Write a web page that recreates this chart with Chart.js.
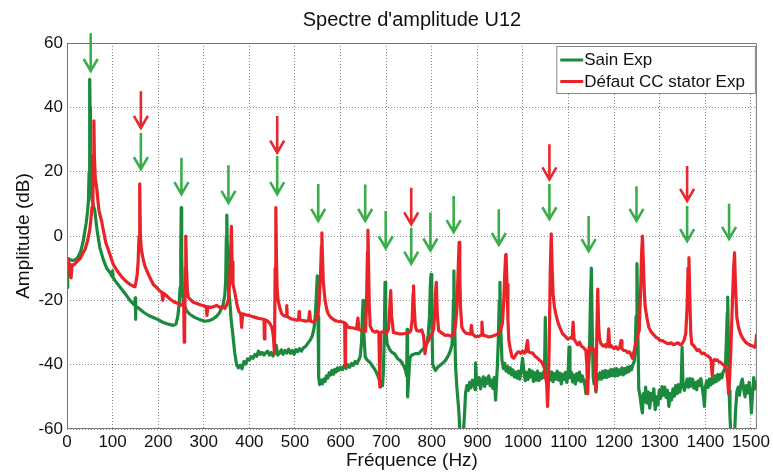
<!DOCTYPE html>
<html lang="fr">
<head>
    <meta charset="UTF-8">
    <title>Spectre d'amplitude U12</title>
    <script src="https://cdn.jsdelivr.net/npm/chart.js"></script>
    <style>
        html, body { margin: 0; padding: 0; background: #fff; }
        #wrap { width: 773px; height: 473px; }
    </style>
</head>
<body>
    <div id="wrap"><canvas id="spectre" width="773" height="473"></canvas></div>
    <script>
        // Spectres relevés : [fréquence Hz, amplitude dB]
        const sainSpectrum = [
            [0,-16],[1.5,-7],[6,-7.3],[12,-7.6],[18,-7.4],[24,-6.6],[30,-4.8],[35,-2],[38,0.5],[42,4],[45,7.5],[47,11],
            [48.5,20],[49.5,40],[50,48.7],[50.5,40],[51.5,20],[53,13],[56,10.5],[61,7.8],[66,1.8],[72,-3.6],[80,-7.5],
            [87,-10],[95,-11.5],[99,-12.6],[100,-10.8],[101,-12.8],[105,-13.8],[117,-16],[128,-18],[138,-20],[146,-21.2],
            [149,-21.6],[149.7,-19.2],[150.3,-25.9],[151,-21.8],[153,-22],[160,-22.8],[168,-23.7],[180,-24.8],[197,-25.8],
            [210,-26.8],[222,-27.4],[233,-27.8],[239,-27.4],[243,-25],[246,-21],[248,-16],[249.5,-5],[250.5,8.8],[251.5,-5],
            [253,-18],[256,-21],[262,-23.2],[270,-24.4],[280,-25.3],[291,-26],[302,-26.5],[312,-26.3],[320,-25.8],[328,-25],
            [335,-23.7],[342,-21.5],[346,-18.5],[348,-14],[349.5,0],[350.5,6.5],[351.5,-3],[353,-15],[357,-20],[360,-26],
            [364,-31],[368,-36.5],[372,-40],[376,-41],[380,-40.2],[384,-41.3],[388,-39],[392,-39.8],[396,-38.2],[400,-38.6],
            [404,-37.5],[408,-38],[412,-36.8],[416,-37.4],[420,-35.8],[424,-36.8],[428,-36.2],[432,-37],[436,-36.3],[440,-35.8],
            [444,-37],[448,-36.2],[452,-37.3],[456,-36],[459,-34],[462,-37],[466,-36.5],[470,-35.4],[474,-36.8],[478,-35.6],
            [482,-36.4],[486,-35.2],[490,-36.5],[494,-35.6],[498,-36.8],[502,-35.3],[506,-36],[510,-35],[514,-35.8],[518,-34.8],
            [522,-34.5],[526,-33.8],[530,-33],[534,-32.2],[538,-31],[542,-28.5],[545,-24],[547,-18],[549,-12.4],[550.5,-25],
            [552,-44],[554,-46.2],[557,-44.8],[560,-46],[563,-44.5],[566,-45.2],[569,-43.5],[572,-44.2],[575,-42.5],[578,-43.2],
            [581,-41.8],[584,-43],[587,-41.5],[590,-42.3],[593,-41],[596,-41.8],[600,-40.8],[604,-41.6],[608,-40.2],[612,-41.2],
            [616,-40],[620,-40.8],[624,-39.6],[628,-40.2],[632,-39],[636,-39.6],[640,-38.5],[643,-37.5],[646,-33],[648,-24],
            [649.5,-20],[651,-30],[654,-37.6],[658,-38.5],[662,-39],[666,-39.6],[670,-40.5],[674,-41.2],[678,-42.3],[682,-43.5],
            [685,-44.8],[688,-46.9],[690,-45],[692,-46.5],[694,-42],[696,-30],[697.5,-14.4],[699,-28],[702,-33.5],[706,-34.8],
            [710,-35.8],[714,-36.3],[718,-36.6],[722,-37.4],[726,-38.3],[730,-38.6],[734,-39.2],[738,-40.3],[742,-41.5],
            [745,-43.5],[746,-29],[747,-50],[749,-45],[752,-38],[756,-37],[760,-36.8],[765,-36.5],[771,-36.6],[776,-35.8],
            [782,-35],[786,-34.3],[789,-33.5],[792,-31],[795,-25],[797,-15],[798.5,-11.9],[800,-25],[802,-39.7],[805,-41],
            [808,-41.8],[812,-41],[816,-40.4],[820,-40],[825,-39.4],[830,-38.7],[835,-37.5],[840,-36],[844,-34],[846,-30],
            [847.5,-20],[848.5,-10.8],[850,-25],[852,-40],[855,-47],[858,-52],[860,-56],[862,-62],[866,-62],[869,-62],
            [872,-55],[874,-49],[877,-46.5],[880,-48],[883,-45.5],[886,-47.2],[889,-44.8],[892,-45.6],[895,-47.8],[896,-39.4],
            [898,-44.5],[901,-46.2],[904,-44],[907,-47.5],[910,-45.2],[913,-43.8],[916,-46.8],[919,-44.2],[922,-45.8],
            [925,-43.5],[928,-46.6],[931,-44.8],[934,-47.4],[937,-44],[940,-51],[942,-45.5],[944,-40],[946,-32],[948,-20],
            [949.5,-14.4],[951,-28],[954,-38.7],[957,-41.2],[960,-39.6],[963,-42],[966,-40.5],[969,-42.6],[972,-41],
            [975,-43.2],[978,-41.6],[981,-43.8],[984,-42.3],[987,-44.2],[990,-42],[993,-44.5],[996,-42.3],[999,-38],
            [1002,-41.8],[1005,-45],[1008,-42.4],[1011,-44.6],[1014,-41.5],[1017,-43.8],[1020,-42],[1023,-45.2],[1026,-42.5],
            [1029,-44.8],[1032,-42],[1035,-45],[1038,-42.8],[1041,-44.3],[1044,-42.5],[1047,-44],[1049,-25.3],[1051,-43.5],
            [1054,-45.5],[1057,-42.6],[1060,-44.8],[1063,-42.2],[1066,-45.3],[1069,-42.8],[1072,-44.5],[1075,-42],[1078,-44.8],
            [1081,-42.6],[1084,-46],[1087,-43],[1090,-44.6],[1093,-42.4],[1096,-45.5],[1099,-43],[1101,-34.5],[1103,-44],
            [1106,-42.3],[1109,-45.4],[1112,-43.2],[1115,-46],[1118,-42.8],[1121,-44.8],[1124,-42.3],[1127,-45.3],[1130,-43.5],
            [1133,-44.8],[1136,-46.5],[1138,-49],[1140,-45],[1143,-44],[1146,-35],[1148,-20],[1150,-10],[1152,-30],[1154,-44],
            [1156,-46],[1158,-44.5],[1160,-48.5],[1163,-43],[1166,-44.5],[1169,-42.5],[1172,-44.5],[1175,-42],[1178,-44],
            [1181,-41.8],[1184,-44],[1187,-42],[1190,-43.6],[1193,-41.5],[1196,-43.4],[1199,-41.5],[1202,-43.6],[1205,-41.2],
            [1208,-43.4],[1211,-41.6],[1214,-43],[1217,-41],[1220,-43.2],[1223,-41.2],[1226,-42.6],[1229,-40.8],[1232,-42.2],
            [1235,-40.5],[1238,-41.6],[1241,-40],[1244,-39],[1246,-36],[1248,-25],[1250,-8.6],[1252,-30],[1254,-47.6],
            [1257,-50],[1260,-53.5],[1262,-55],[1264,-49],[1267,-51.5],[1269,-47],[1272,-52],[1275,-48.5],[1278,-53.5],
            [1281,-49],[1284,-51],[1287,-47.5],[1290,-54],[1293,-50],[1296,-52.5],[1299,-48],[1302,-50.5],[1305,-46.8],
            [1308,-49.5],[1311,-47],[1314,-50.2],[1317,-48],[1320,-53],[1323,-49],[1326,-51],[1329,-47.5],[1332,-49.8],
            [1335,-46.5],[1338,-49],[1341,-46.2],[1344,-48.5],[1347,-46],[1349,-34.5],[1351,-46],[1354,-48],[1357,-46.5],
            [1360,-44.5],[1363,-47],[1366,-44.3],[1369,-46.7],[1372,-44.5],[1375,-47.3],[1378,-45.5],[1381,-47.8],[1384,-45],
            [1387,-46.5],[1390,-44.3],[1393,-47],[1396,-50],[1398,-53],[1400,-47],[1403,-45],[1406,-47.1],[1409,-44.5],
            [1412,-46.3],[1415,-44],[1418,-45.7],[1421,-43.5],[1424,-45.3],[1427,-43.1],[1430,-44.7],[1433,-43],[1436,-44.1],
            [1439,-42.3],[1442,-41.5],[1444,-40.5],[1446,-33],[1448,-24],[1449,-19],[1450.5,-32],[1452,-48],[1454,-56],
            [1456,-62],[1460,-62],[1464,-62],[1466,-55],[1469,-48.5],[1472,-47],[1475,-49.5],[1478,-46],[1481,-44.5],
            [1484,-47.5],[1487,-50],[1490,-46.5],[1493,-48.8],[1496,-45.5],[1499,-50],[1501,-55],[1503,-50],[1506,-44],
            [1509,-47.5],[1512,-45.5],[1513,-47]
        ];

        const defautSpectrum = [
            [0,-7],[2,-8],[5,-8.5],[7,-12.5],[9,-13],[11,-9],[15,-9],[20,-8.2],[25,-7.5],[29,-7],[34,-5.5],[40,-4],[45,-1.5],
            [50,2],[53,6],[55,9],[57,15],[58,25],[59,35.8],[60,25],[62,18],[65,15],[70,8],[76,4.5],[85,-2],[94,-5.7],[102,-9],
            [110,-10.8],[120,-12.7],[130,-14.2],[138,-15],[145,-15.6],[149,-15.8],[151,-14.5],[154,-12],[156,-8],[158,0],
            [159.5,16.2],[161,0],[163,-4],[166,-6.5],[170,-9],[175,-10.8],[182,-13],[189,-15],[196,-16],[203,-17],[208,-17.5],
            [210,-20],[212,-17.8],[218,-18.5],[226,-19.6],[235,-20.5],[244,-21],[250,-21.5],[254,-21.2],[256,-20],[257,-33],
            [258,-28],[259.5,-10],[260.5,0],[262,-10],[264,-17],[266,-19],[272,-20],[277,-20.6],[285,-21],[292,-21.4],
            [299,-21.6],[305,-22],[307,-24.7],[309,-22],[315,-22.2],[321,-22],[328,-21.6],[335,-22.2],[342,-22],[346,-22.5],
            [350,-21.5],[354,-20],[357,-14],[359,-5],[360.5,3],[362,-8],[364,-15],[368,-17.5],[373,-21.5],[377,-23.5],
            [381,-24.2],[383,-28.4],[385,-24.2],[392,-24.5],[399,-24.7],[406,-25],[413,-25.3],[420,-25.6],[428,-25.8],
            [432,-26],[433,-32],[434,-26],[440,-26.5],[444,-27],[448,-28],[451,-29.5],[453,-32],[455,-36.6],[456.5,-10],
            [458,8.8],[459.5,-8],[461,-17],[463,-20],[467,-22.5],[471,-24.2],[476,-24.8],[481,-25],[482,-21.6],[483,-25],
            [488,-25.5],[493,-25.8],[499,-26],[504,-26.2],[508,-26],[509,-23.5],[510,-26],[515,-26.2],[519,-26.3],[525,-26.5],
            [530,-26.2],[532,-23.5],[534,-26.5],[541,-26.8],[545,-26],[549,-25.3],[553,-21],[556,-12],[558,-3],[559,1],
            [560,-5],[562,-14],[566,-20],[570,-23],[573,-24.2],[578,-25.2],[583,-25.8],[588,-26.3],[594,-26.5],[600,-26.6],
            [606,-26.8],[609,-27],[610,-40.2],[611,-27.2],[617,-28.4],[622,-28.5],[628,-28.6],[635,-28.9],[638,-25.5],
            [640,-29],[646,-29.4],[651,-29.6],[655,-29.6],[657,-20],[659,-5],[660,1.8],[661.5,-10],[663,-22],[665,-28],
            [670,-29.5],[676,-29.9],[680,-29.6],[684,-30],[686,-46.9],[688,-30],[692,-29.8],[697,-30],[701,-30.2],[705,-29],
            [708,-22],[710,-17],[712,-25],[716,-30],[722,-30.2],[728,-30.4],[734,-30.4],[740,-30.3],[745,-30.2],[750,-30],
            [754,-29.5],[757,-26],[759,-18],[760,-15.5],[761.5,-22],[764,-28],[767,-29.4],[772,-29.6],[778,-29.2],[782,-31],
            [785,-36.6],[788,-33.5],[793,-32.5],[797,-31],[801,-30.2],[804,-29],[806,-25],[808,-18],[810,-14.4],[812,-24],
            [815,-29.4],[820,-30],[825,-30.4],[829,-30.9],[835,-30.8],[840,-31],[844,-31.2],[848,-30.5],[852,-28],[855,-23],
            [858,-10],[860,-2],[861.5,-12],[863,-22],[866,-28.4],[870,-29.5],[875,-30.2],[881,-30.4],[885,-30.5],[887,-27.8],
            [889,-30.5],[896,-31.3],[903,-31.2],[908,-30.8],[910,-26.8],[912,-30.8],[918,-31],[925,-31.4],[932,-31.2],
            [940,-30.8],[946,-30.4],[951,-29.4],[955,-27],[958,-20],[960,-12],[962,-6],[963,-5.7],[965,-15],[967,-26],
            [969,-32.5],[972,-35],[976,-37.6],[980,-38],[984,-37],[988,-36.2],[991,-36],[995,-36.5],[999,-35.8],[1003,-36.4],
            [1006,-36],[1010,-32.5],[1012,-36],[1016,-36.2],[1021,-36.4],[1026,-37.3],[1032,-38],[1036,-38.6],[1040,-39],
            [1043,-39.7],[1047,-41],[1050,-43.8],[1052,-46],[1054,-53],[1056,-45],[1058,-30],[1060,-10],[1062,0.7],
            [1064,-10],[1066,-18],[1069,-22],[1072,-24.2],[1077,-27],[1082,-28.8],[1087,-30.4],[1093,-31.2],[1098,-32],
            [1104,-31.6],[1108,-31.8],[1110,-26.8],[1112,-32],[1116,-33],[1120,-33.8],[1124,-33],[1128,-34.2],[1131,-34.5],
            [1135,-35],[1138,-35.6],[1140,-40],[1142,-49],[1144,-38],[1145,-34.5],[1149,-35.2],[1153,-34.8],[1156,-35.6],
            [1158,-40],[1160,-48],[1162,-30],[1164,-16.5],[1166,-28],[1168,-32],[1171,-33.5],[1176,-34.2],[1180,-33.8],
            [1182,-34.5],[1186,-34],[1188,-28.9],[1190,-34.5],[1193,-34],[1196,-34.5],[1200,-35],[1204,-34.4],[1208,-35.2],
            [1212,-34.8],[1215,-32.5],[1217,-35],[1221,-35.6],[1225,-35.6],[1229,-36.2],[1233,-36],[1236,-36.6],[1240,-38],
            [1244,-35.6],[1248,-33],[1252,-30.5],[1255,-29.4],[1258,-17],[1260,-6],[1262,0],[1264,-8],[1266,-17],[1268,-22],
            [1272,-25.5],[1276,-28.4],[1281,-29.8],[1286,-30.6],[1291,-31.4],[1296,-31.8],[1301,-32.5],[1306,-32.5],
            [1311,-33],[1316,-33.4],[1320,-33.5],[1325,-33.2],[1330,-33.8],[1335,-33.5],[1340,-33.2],[1345,-33.8],
            [1349,-33.5],[1353,-32.5],[1357,-30.4],[1360,-22],[1362,-10],[1364,-6.7],[1366,-20],[1368,-30],[1370,-33.5],
            [1375,-34.2],[1379,-35],[1382,-35.6],[1386,-35.3],[1390,-36.2],[1393,-36.6],[1397,-36.4],[1401,-37],[1405,-37.2],
            [1408,-37.6],[1411,-38],[1413,-39],[1415,-43.3],[1417,-39],[1420,-38.4],[1422,-38.7],[1426,-38.5],[1430,-39.2],
            [1433,-39.2],[1437,-39.8],[1441,-40.2],[1444,-40.7],[1447,-42],[1449,-45],[1451,-49],[1453,-45],[1456,-35],
            [1459,-22],[1462,-10],[1464,-5.2],[1466,-15],[1469,-25.3],[1473,-28.5],[1477,-30.4],[1482,-31.8],[1488,-33],
            [1494,-33.6],[1499,-34],[1504,-34.2],[1508,-34.6],[1510,-34.5],[1512,-31],[1513,-30.4]
        ];

        // Flèches : [fréquence Hz, dB départ, dB pointe]
        const flechesSain = [
            [52,63,51.3],[162,32,20.8],[251,24.3,13],[354,22,10.3],[461,24.9,13],[551,16.2,4.7],[654,16,4.7],
            [699,7.8,-3.8],[755,2.6,-8.6],[797,7.3,-4.5],[848,12.4,1.2],[947,8.3,-2.8],[1058,16.2,5.2],
            [1144,6.2,-4.7],[1249,15.5,4.7],[1360,9.3,-1.6],[1452,10,-0.9]
        ];
        const flechesDefaut = [
            [162,45,33.6],[461,37.3,25.9],[755,15,3.6],[1058,28.5,17.6],[1360,21.8,10.9]
        ];

        const freqMax = 1513;
        const police = "'Liberation Sans', Arial, sans-serif";

        const annotations = {
            id: 'annotations',
            afterDatasetsDraw(chart) {
                const { ctx, scales: { x, y } } = chart;
                const fleche = (liste, couleur) => liste.forEach(([hz, de, a]) => {
                    const px = x.getPixelForValue(hz);
                    const y0 = y.getPixelForValue(de);
                    const y1 = y.getPixelForValue(a);
                    ctx.save();
                    ctx.strokeStyle = couleur;
                    ctx.lineWidth = 2.6;
                    ctx.lineJoin = 'miter';
                    ctx.beginPath();
                    ctx.moveTo(px, y0);
                    ctx.lineTo(px, y1 - 1);
                    ctx.moveTo(px - 7, y1 - 12);
                    ctx.lineTo(px, y1);
                    ctx.lineTo(px + 7, y1 - 12);
                    ctx.stroke();
                    ctx.restore();
                });
                fleche(flechesSain, '#3aae4a');
                fleche(flechesDefaut, '#e62a2e');
            },
            afterDraw(chart) {
                const { ctx, chartArea: a } = chart;
                ctx.save();
                // cadre des axes
                ctx.strokeStyle = '#777';
                ctx.lineWidth = 1;
                ctx.strokeRect(a.left + 0.5, a.top + 0.5, a.right - a.left - 1, a.bottom - a.top - 1);

                // légende
                ctx.font = '17px ' + police;
                const sets = chart.data.datasets.slice().sort((p, q) => p.rang - q.rang);
                const largeurTexte = Math.max(...sets.map(d => ctx.measureText(d.label).width));
                const w = 28 + largeurTexte + 10;
                const h = 47;
                const bx = a.right - 2 - w;
                const by = a.top + 3;
                ctx.fillStyle = '#fff';
                ctx.fillRect(bx, by, w, h);
                ctx.strokeStyle = '#888';
                ctx.strokeRect(bx + 0.5, by + 0.5, w, h);
                sets.forEach((d, i) => {
                    const ly = by + 14 + i * 21.5;
                    ctx.strokeStyle = d.borderColor;
                    ctx.lineWidth = 3;
                    ctx.beginPath();
                    ctx.moveTo(bx + 4, ly);
                    ctx.lineTo(bx + 27, ly);
                    ctx.stroke();
                    ctx.fillStyle = '#111';
                    ctx.textBaseline = 'middle';
                    ctx.fillText(d.label, bx + 28, ly + 0.5);
                });
                ctx.restore();
            }
        };

        const toPoints = arr => arr.map(([f, db]) => ({ x: f, y: db }));

        new Chart(document.getElementById('spectre'), {
            type: 'line',
            data: {
                datasets: [
                    {
                        label: 'Sain Exp',
                        data: toPoints(sainSpectrum),
                        borderColor: '#1b8a3c',
                        borderWidth: 3.2,
                        order: 1,
                        rang: 0
                    },
                    {
                        label: 'Défaut CC stator Exp',
                        data: toPoints(defautSpectrum),
                        borderColor: '#ea2328',
                        borderWidth: 3.2,
                        order: 0,
                        rang: 1
                    }
                ]
            },
            options: {
                responsive: false,
                animation: false,
                devicePixelRatio: 1,
                parsing: false,
                elements: {
                    point: { radius: 0 },
                    line: { tension: 0, borderJoinStyle: 'round', fill: false }
                },
                layout: { padding: 0 },
                plugins: {
                    legend: { display: false },
                    tooltip: { enabled: false }
                },
                scales: {
                    x: {
                        type: 'linear',
                        min: 0,
                        max: freqMax,
                        ticks: {
                            stepSize: 100,
                            includeBounds: false,
                            autoSkip: false,
                            maxRotation: 0,
                            color: '#111',
                            padding: 3,
                            font: { family: police, size: 17 },
                            callback: v => String(v)
                        },
                        grid: { color: 'rgba(0,0,0,0.45)', drawTicks: false, lineWidth: 1 },
                        border: { display: false, dash: [1, 2] },
                        title: {
                            display: true,
                            text: 'Fréquence (Hz)',
                            color: '#111',
                            font: { family: police, size: 19 },
                            padding: { top: 0, bottom: 1 }
                        },
                        afterFit: s => { s.height = 44; }
                    },
                    y: {
                        min: -60,
                        max: 60,
                        ticks: {
                            stepSize: 20,
                            color: '#111',
                            padding: 4,
                            font: { family: police, size: 17 }
                        },
                        grid: { color: 'rgba(0,0,0,0.45)', drawTicks: false, lineWidth: 1 },
                        border: { display: false, dash: [1, 2] },
                        title: {
                            display: true,
                            text: 'Amplitude (dB)',
                            color: '#111',
                            font: { family: police, size: 19 },
                            padding: { top: 12.5, bottom: 0 }
                        },
                        afterFit: s => { s.width = 67; }
                    },
                    haut: {
                        type: 'linear',
                        position: 'top',
                        ticks: { display: false },
                        grid: { display: false },
                        border: { display: false },
                        title: {
                            display: true,
                            text: "Spectre d'amplitude U12",
                            color: '#111',
                            font: { family: police, size: 20 },
                            padding: { top: 8, bottom: 0 }
                        },
                        afterFit: s => { s.height = 43; }
                    },
                    droite: {
                        type: 'linear',
                        position: 'right',
                        ticks: { display: false },
                        grid: { display: false },
                        border: { display: false },
                        afterFit: s => { s.width = 14; }
                    }
                }
            },
            plugins: [annotations]
        });
    </script>
</body>
</html>
